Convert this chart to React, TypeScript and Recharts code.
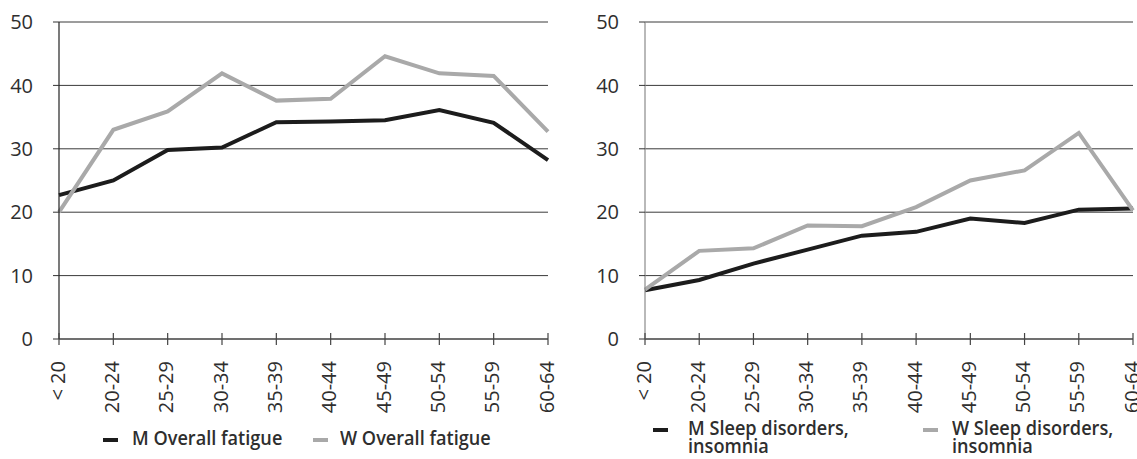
import { LineChart, Line, XAxis, YAxis, CartesianGrid, Legend } from 'recharts';

// age groups along the x axis
const ageGroups = ['< 20', '20-24', '25-29', '30-34', '35-39', '40-44', '45-49', '50-54', '55-59', '60-64'];

// left panel: overall fatigue (%)
const mFatigue = [22.7, 25.0, 29.8, 30.2, 34.2, 34.3, 34.5, 36.1, 34.1, 28.2];
const wFatigue = [20.0, 33.0, 35.9, 41.9, 37.6, 37.9, 44.6, 41.9, 41.5, 32.7];

// right panel: sleep disorders, insomnia (%)
const mSleep = [7.7, 9.3, 11.9, 14.1, 16.3, 16.9, 19.0, 18.3, 20.4, 20.6];
const wSleep = [7.8, 13.9, 14.3, 17.9, 17.8, 20.8, 25.0, 26.6, 32.5, 20.3];

const yTicks = [0, 10, 20, 30, 40, 50];

const FONT = '"Open Sans", "Noto Sans", sans-serif';
const BLACK = '#1c1c1c';
const GREY = '#a9a9a9';
const TEXT = '#2e2e2e';

const fatigueData = ageGroups.map((age, i) => ({ age, m: mFatigue[i], w: wFatigue[i] }));
const sleepData = ageGroups.map((age, i) => ({ age, m: mSleep[i], w: wSleep[i] }));

function AgeTick(props: any) {
  const { x, y, payload } = props;
  const ty = y + 22;
  return (
    <g>
      <line x1={x} x2={x} y1={y - 6} y2={y + 6} stroke="#444" strokeWidth={1.2} />
      <text
        x={x}
        y={ty}
        dy="0.28em"
        transform={`rotate(-90, ${x}, ${ty})`}
        textAnchor="end"
        fontSize={20}
        fontFamily={FONT}
        fill={TEXT}
      >
        {payload.value}
      </text>
    </g>
  );
}

type LegendItemPos = { marker: number; text: number };

function makeLegend(items: LegendItemPos[], top: number, textWidth: number) {
  return (props: any) => {
    const payload = props.payload || [];
    return (
      <div style={{ position: 'relative', height: 42 }}>
        {payload.map((entry: any, i: number) => (
          <div key={entry.value}>
            <div
              style={{
                position: 'absolute',
                left: items[i].marker,
                top: top + 7,
                width: 15,
                height: 4,
                background: entry.color,
              }}
            />
            <div
              style={{
                position: 'absolute',
                left: items[i].text,
                top: top - 2,
                width: textWidth,
                fontFamily: FONT,
                fontWeight: 600,
                fontSize: 19.5,
                lineHeight: '18px',
                color: TEXT,
                transform: 'scaleX(0.93)',
                transformOrigin: 'left top',
                textAlign: 'left',
              }}
            >
              {entry.value}
            </div>
          </div>
        ))}
      </div>
    );
  };
}

type PanelProps = {
  data: any[];
  width: number;
  yAxisWidth: number;
  marginRight: number;
  axisColor: string;
  mName: string;
  wName: string;
  legend: (props: any) => any;
};

function Panel({ data, width, yAxisWidth, marginRight, axisColor, mName, wName, legend }: PanelProps) {
  return (
    <LineChart
      width={width}
      height={459}
      data={data}
      margin={{ top: 22, right: marginRight, left: 0, bottom: 0 }}
    >
      <CartesianGrid vertical={false} stroke="#3a3a3a" strokeWidth={1} />
      <XAxis
        dataKey="age"
        scale="point"
        interval={0}
        height={78}
        tickSize={0}
        tickMargin={0}
        tickLine={false}
        axisLine={{ stroke: '#444', strokeWidth: 1.2 }}
        tick={<AgeTick />}
      />
      <YAxis
        width={yAxisWidth}
        domain={[0, 50]}
        ticks={yTicks}
        interval={0}
        tickSize={6}
        tickMargin={20}
        axisLine={{ stroke: axisColor, strokeWidth: 1.2 }}
        tickLine={{ stroke: '#333' }}
        tick={{ fontSize: 20, fontFamily: FONT, fill: TEXT }}
      />
      <Legend
        verticalAlign="bottom"
        height={42}
        wrapperStyle={{ left: 0, width, bottom: 0 }}
        content={legend}
      />
      <Line
        type="linear"
        dataKey="m"
        name={mName}
        stroke={BLACK}
        strokeWidth={4}
        dot={false}
        activeDot={false}
        isAnimationActive={false}
      />
      <Line
        type="linear"
        dataKey="w"
        name={wName}
        stroke={GREY}
        strokeWidth={4}
        dot={false}
        activeDot={false}
        isAnimationActive={false}
      />
    </LineChart>
  );
}

export default function App() {
  return (
    <div
      style={{
        position: 'absolute',
        left: 0,
        top: 0,
        width: 1137,
        height: 459,
        display: 'flex',
        background: '#fff',
        overflow: 'hidden',
      }}
    >
      <Panel
        data={fatigueData}
        width={570}
        yAxisWidth={59}
        marginRight={22}
        axisColor="#222"
        mName="M Overall fatigue"
        wName="W Overall fatigue"
        legend={makeLegend(
          [
            { marker: 103, text: 132 },
            { marker: 313, text: 340 },
          ],
          14,
          240,
        )}
      />
      <Panel
        data={sleepData}
        width={567}
        yAxisWidth={75}
        marginRight={4}
        axisColor="#8a8a8a"
        mName="M Sleep disorders, insomnia"
        wName="W Sleep disorders, insomnia"
        legend={makeLegend(
          [
            { marker: 83, text: 118 },
            { marker: 353, text: 382 },
          ],
          4,
          190,
        )}
      />
    </div>
  );
}
